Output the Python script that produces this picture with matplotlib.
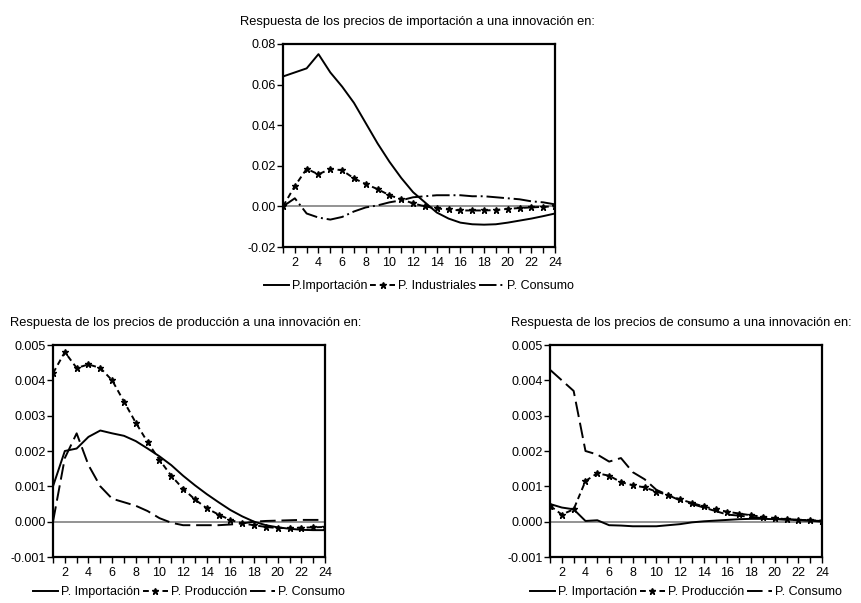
import numpy as np
import matplotlib.pyplot as plt

plt.rcParams['font.family'] = ['Liberation Sans', 'DejaVu Sans']

periods = np.arange(1, 25)

# respuesta de los precios de importación
imp_imp = [0.064, 0.066, 0.068, 0.075, 0.066, 0.059, 0.051, 0.041, 0.031, 0.022, 0.014, 0.007,
           0.002, -0.003, -0.006, -0.008, -0.0088, -0.009, -0.0088, -0.008, -0.007, -0.006, -0.0048, -0.0035]
imp_ind = [0.000, 0.010, 0.0185, 0.0158, 0.0185, 0.0178, 0.0138, 0.011, 0.0085, 0.0055, 0.0035, 0.0015,
           0.000, -0.001, -0.0015, -0.002, -0.002, -0.002, -0.0018, -0.0012, -0.0008, -0.0005, -0.0002, 0.000]
imp_con = [0.000, 0.004, -0.0035, -0.0055, -0.0065, -0.0052, -0.0025, -0.0005, 0.0005, 0.002, 0.003, 0.0045,
           0.005, 0.0055, 0.0055, 0.0055, 0.005, 0.005, 0.0045, 0.004, 0.0035, 0.0025, 0.002, 0.001]

# respuesta de los precios de producción
prod_imp = [0.0010, 0.0020, 0.00207, 0.0024, 0.00258, 0.0025, 0.00243, 0.00228, 0.00207, 0.00185, 0.0016, 0.0013,
            0.00103, 0.00078, 0.00055, 0.00033, 0.00015, 0.0, -0.0001, -0.00016, -0.0002, -0.00023, -0.00024, -0.00024]
prod_prod = [0.0042, 0.0048, 0.00435, 0.00445, 0.00435, 0.0040, 0.0034, 0.0028, 0.00225, 0.00175, 0.0013, 0.00093,
             0.00063, 0.00038, 0.0002, 0.00005, -0.00005, -0.0001, -0.00015, -0.00018, -0.00018, -0.00017, -0.00016, -0.00015]
prod_con = [0.0, 0.0018, 0.0025, 0.0016, 0.0010, 0.00065, 0.00055, 0.00045, 0.0003, 0.0001, -0.00003, -0.0001,
            -0.0001, -0.0001, -0.0001, -0.00008, -0.00005, 0.0, 0.00002, 0.00003, 0.00004, 0.00005, 0.00005, 0.00005]

# respuesta de los precios de consumo
con_imp = [0.0005, 0.0004, 0.00035, 0.00002, 0.00004, -0.0001, -0.00011, -0.00013, -0.00013, -0.00013, -0.0001, -0.00007,
           -0.00002, 0.00001, 0.00003, 0.00005, 0.00007, 0.00008, 0.00008, 0.00007, 0.00006, 0.00005, 0.00003, 0.0]
con_prod = [0.00045, 0.0002, 0.00035, 0.00115, 0.00137, 0.0013, 0.00112, 0.00103, 0.00097, 0.00085, 0.00075, 0.00063,
            0.00053, 0.00043, 0.00035, 0.00028, 0.00023, 0.00018, 0.00014, 0.0001, 0.00007, 0.00005, 0.00004, 0.00003]
con_con = [0.0043, 0.0040, 0.0037, 0.0020, 0.0019, 0.0017, 0.0018, 0.0014, 0.0012, 0.0009, 0.00075, 0.0006,
           0.0005, 0.0004, 0.0003, 0.0002, 0.00017, 0.00013, 0.0001, 0.00008, 0.00006, 0.00004, 0.00003, 0.00002]

W, H = 861, 603
fig = plt.figure(figsize=(W / 100, H / 100), dpi=100)


def panel(x0, y0, x1, y1, title, title_x, series, labels, ylim, yticks, fmt, con_style, leg_top):
    ax = fig.add_axes([x0 / W, 1 - y1 / H, (x1 - x0) / W, (y1 - y0) / H])
    ax.axhline(0, color='#808080', lw=1.2, zorder=1)
    s1, s2, s3 = series
    ax.plot(periods, s1, color='black', lw=1.4, label=labels[0])
    ax.plot(periods, s2, color='black', lw=1.4, ls=(0, (3, 2)), marker='*', ms=5,
            label=labels[1])
    ax.plot(periods, s3, color='black', lw=1.4, ls=con_style, label=labels[2])
    ax.set_xlim(1, 24)
    ax.set_ylim(*ylim)
    ax.set_xticks(np.arange(1, 25))
    ax.set_xticklabels([str(p) if p % 2 == 0 else '' for p in periods])
    ax.set_yticks(yticks)
    ax.set_yticklabels([fmt.format(v) for v in yticks])
    for sp in ax.spines.values():
        sp.set_linewidth(1.6)
    ax.tick_params(direction='out', length=4, width=1, labelsize=9)
    ax.tick_params(axis='x', pad=3)
    ax.tick_params(axis='y', pad=1)
    fig.text(title_x / W, 1 - (y0 - 22) / H, title, fontsize=9.3, ha='left', va='center')
    ax.legend(loc='upper center', bbox_to_anchor=(0.5, -(leg_top - y1) / (y1 - y0)), ncol=3,
              frameon=False, fontsize=9, handlelength=2.0, handletextpad=0.25,
              columnspacing=0.2, borderaxespad=0, borderpad=0)
    return ax


panel(283, 44, 555, 247, 'Respuesta de los precios de importación a una innovación en:', 240,
      (imp_imp, imp_ind, imp_con), ('P.Importación', 'P. Industriales', 'P. Consumo'),
      (-0.02, 0.08), [-0.02, 0.0, 0.02, 0.04, 0.06, 0.08], '{:.2f}', (0, (9, 2, 1, 2)), 280)

panel(53, 345, 325, 557, 'Respuesta de los precios de producción a una innovación en:', 10,
      (prod_imp, prod_prod, prod_con), ('P. Importación', 'P. Producción', 'P. Consumo'),
      (-0.001, 0.005), [-0.001, 0.0, 0.001, 0.002, 0.003, 0.004, 0.005], '{:.3f}', (0, (8, 3)), 586)

panel(550, 345, 822, 557, 'Respuesta de los precios de consumo a una innovación en:', 511,
      (con_imp, con_prod, con_con), ('P. Importación', 'P. Producción', 'P. Consumo'),
      (-0.001, 0.005), [-0.001, 0.0, 0.001, 0.002, 0.003, 0.004, 0.005], '{:.3f}', (0, (8, 3)), 586)

fig.savefig('out.png', dpi=100)
